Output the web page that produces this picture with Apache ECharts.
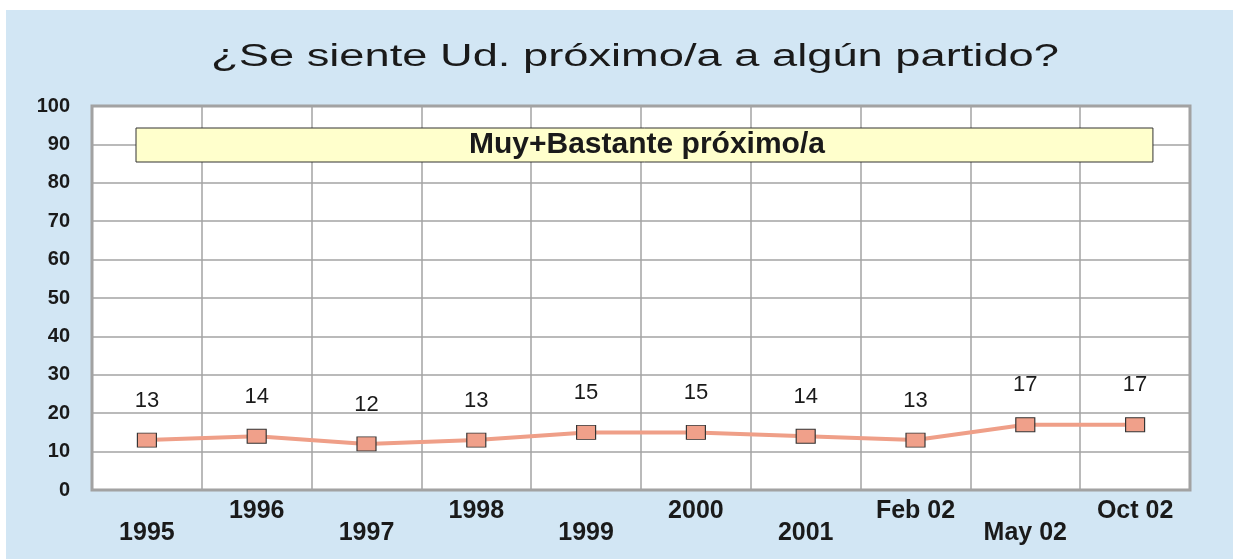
<!DOCTYPE html>
<html>
<head>
<meta charset="utf-8">
<script src="https://cdn.jsdelivr.net/npm/echarts@6/dist/echarts.min.js"></script>
<style>
  html, body { margin: 0; padding: 0; background: #ffffff; }
  #chartDiv { position: absolute; left: 6px; top: 10px; width: 1227px; height: 549px; }
</style>
</head>
<body>
<div id="chartDiv"></div>
<script>
// 数据
let titulo = '¿Se siente Ud. próximo/a a algún partido?';
let categories = ['1995', '1996', '1997', '1998', '1999', '2000', '2001', 'Feb 02', 'May 02', 'Oct 02'];
let valores = [13, 14, 12, 13, 15, 15, 14, 13, 17, 17];
let serieName = 'Muy+Bastante próximo/a';

let myChart = echarts.init(document.getElementById('chartDiv'));
window.onresize = myChart.resize;

let fontFamily = '"Liberation Sans", Arial, sans-serif';
let gridColor = '#a3a3a3';
let lineColor = '#ef9f88';

let option = {
	backgroundColor: '#d2e6f4',
	animation: false,
	// título ensanchado como en el original
	graphic: [{
		type: 'text',
		x: 629,
		y: 47,
		scaleX: 1.46,
		style: {
			text: titulo,
			align: 'center',
			verticalAlign: 'middle',
			fill: '#1a1a1a',
			font: 'normal 31px "Liberation Sans", Arial, sans-serif'
		}
	}],
	legend: {
		show: true,
		left: 130,
		top: 118,
		itemWidth: 0,
		itemHeight: 0,
		padding: [2, 328, 2, 328],
		backgroundColor: '#ffffcc',
		borderColor: '#333333',
		borderWidth: 1,
		selectedMode: false,
		textStyle: {
			color: '#1a1a1a',
			fontFamily: fontFamily,
			fontSize: 30,
			lineHeight: 26,
			fontWeight: 'bold'
		},
		data: [{name: serieName, icon: 'none'}]
	},
	grid: {
		left: 86,
		right: 43,
		top: 96,
		bottom: 69,
		show: true,
		backgroundColor: '#ffffff',
		borderColor: '#a0a0a0',
		borderWidth: 3
	},
	xAxis: [{
		type: 'category',
		data: categories,
		boundaryGap: true,
		axisLine: {show: false},
		axisTick: {show: false},
		splitLine: {show: true, interval: 0, lineStyle: {color: gridColor, width: 1.5}},
		axisLabel: {
			margin: 9,
			interval: function (index) { return index % 2 === 1; },
			color: '#1a1a1a',
			fontFamily: fontFamily,
			fontSize: 25,
			fontWeight: 'bold'
		}
	}, {
		type: 'category',
		data: categories,
		position: 'bottom',
		offset: 22,
		boundaryGap: true,
		axisLine: {show: false},
		axisTick: {show: false},
		splitLine: {show: false},
		axisLabel: {
			margin: 9,
			interval: function (index) { return index % 2 === 0; },
			color: '#1a1a1a',
			fontFamily: fontFamily,
			fontSize: 25,
			fontWeight: 'bold'
		}
	}],
	yAxis: {
		type: 'value',
		min: 0,
		max: 100,
		interval: 10,
		axisLine: {show: false},
		axisTick: {show: false},
		splitLine: {show: true, lineStyle: {color: gridColor, width: 1.5}},
		axisLabel: {
			margin: 22,
			color: '#1a1a1a',
			fontFamily: fontFamily,
			fontSize: 20,
			fontWeight: 'bold'
		}
	},
	series: [{
		name: serieName,
		type: 'line',
		data: valores,
		xAxisIndex: 0,
		symbol: 'rect',
		symbolSize: [19, 14],
		lineStyle: {color: lineColor, width: 4},
		itemStyle: {color: '#f0a08a', borderColor: '#333333', borderWidth: 1},
		label: {
			show: true,
			position: 'top',
			distance: 21,
			color: '#1a1a1a',
			fontFamily: fontFamily,
			fontSize: 22
		}
	}]
};

myChart.setOption(option);
</script>
</body>
</html>
